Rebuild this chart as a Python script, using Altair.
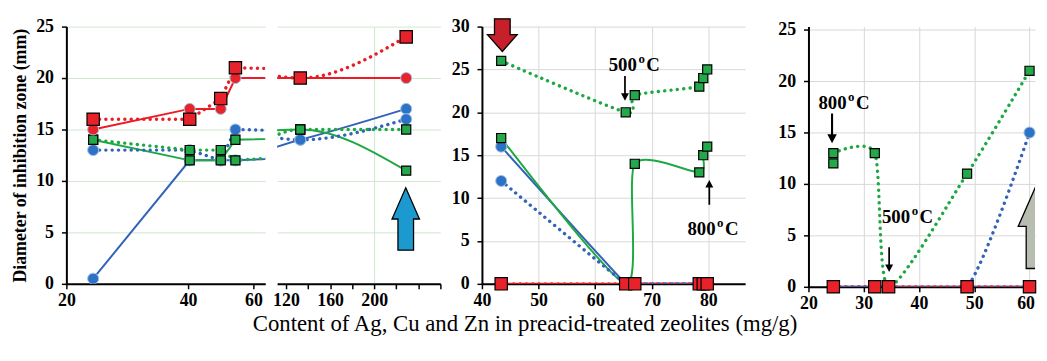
import altair as alt
import pandas as pd

SERIF = "Liberation Serif"

# ---------------- data ----------------
# Panels 1-2 share one broken x axis
LEFT_X = [24.4, 40.5, 50, 54.5, 133, 229]
LEFT_RED_SOLID = [15, 17, 17, 20, 20, 20]
LEFT_RED_DOTTED = [16, 16, 18, 21, 20, 24]
LEFT_BLUE_SOLID = [0.5, 12, 12, 12, 14, 17]
LEFT_BLUE_DOTTED = [13, 13, 12, 15, 14, 16]
LEFT_GREEN_SOLID = [14, 12, 12, 14, 15, 11]
LEFT_GREEN_DOTTED = [14, 13, 13, 12, 15, 15]

# Panel 3
MID_X = [43.4, 65.4, 67, 78.4, 79.1, 79.8]
MID_RED_SOLID = [0, 0, 0, 0, 0, 0]
MID_RED_DOTTED = [0, 0, 0, 0, 0, 0]
MID_BLUE_SOLID = [16, 0, 0, 0, 0, 0]
MID_BLUE_DOTTED = [12, 0, 0, 0, 0, 0]
MID_GREEN_SOLID = [17, 0, 14, 13, 15, 16]
MID_GREEN_DOTTED = [26, 20, 22, 23, 24, 25]

# Panel 4
RIGHT_X = [24.5, 32, 34.5, 48.7, 60]
RIGHT_RED_SOLID = [0, 0, 0, 0, 0]
RIGHT_RED_DOTTED = [0, 0, 0, 0, 0]
RIGHT_BLUE_SOLID = [0, 0, 0, 0, 0]
RIGHT_BLUE_DOTTED = [0, 0, 0, 0, 15]
RIGHT_GREEN_SOLID = [12, None, None, None, None]
RIGHT_GREEN_DOTTED = [13, 13, 0, 11, 21]

# annotation labels (data coordinates of each panel)
MID_TEMPS = [("500", 62.4, 24.8), ("800", 76.3, 5.75)]
MID_ARROWS_DOWN = [(65.27, 22.8)]
MID_ARROWS_UP = [(80.17, 10.66)]
RIGHT_TEMPS = [("800", 21.8, 17.3), ("500", 33.3, 6.25)]
RIGHT_ARROWS_DOWN = [(24.27, 15.4), (34.6, 2.64)]

TITLE = "Content of Ag, Cu and Zn in preacid-treated zeolites (mg/g)"
YTITLE = "Diameter of inhibition zone (mm)"

# ---------------- helpers ----------------
def long_table(xs, series):
    rows = []
    for name, ys in series.items():
        color, style = name.split("_")
        for i, (x, y) in enumerate(zip(xs, ys)):
            if y is None:
                continue
            rows.append(dict(x=x, y=y, series=name, color=color, style=style, i=i))
    return pd.DataFrame(rows)


left_df = long_table(LEFT_X, {
    "red_solid": LEFT_RED_SOLID, "red_dotted": LEFT_RED_DOTTED,
    "blue_solid": LEFT_BLUE_SOLID, "blue_dotted": LEFT_BLUE_DOTTED,
    "green_solid": LEFT_GREEN_SOLID, "green_dotted": LEFT_GREEN_DOTTED})
mid_df = long_table(MID_X, {
    "red_solid": MID_RED_SOLID, "red_dotted": MID_RED_DOTTED,
    "blue_solid": MID_BLUE_SOLID, "blue_dotted": MID_BLUE_DOTTED,
    "green_solid": MID_GREEN_SOLID, "green_dotted": MID_GREEN_DOTTED})
right_df = long_table(RIGHT_X, {
    "red_solid": RIGHT_RED_SOLID, "red_dotted": RIGHT_RED_DOTTED,
    "blue_solid": RIGHT_BLUE_SOLID, "blue_dotted": RIGHT_BLUE_DOTTED,
    "green_solid": RIGHT_GREEN_SOLID, "green_dotted": RIGHT_GREEN_DOTTED})

COLOR_SCALE = alt.Scale(domain=["red", "blue", "green"],
                        range=["#ec1c24", "#3263b8", "#1ea843"])

GREEN_GRID = "#cfe7cf"
GREY_GRID = "#d8d8d8"

THIN_DOWN = "M-0.07,-1 L0.07,-1 L0.07,0.4 L0.32,0.4 L0,1 L-0.32,0.4 L-0.07,0.4 Z"
THIN_UP = "M-0.07,1 L0.07,1 L0.07,-0.4 L0.32,-0.4 L0,-1 L-0.32,-0.4 L-0.07,-0.4 Z"
BIG_UP = "M0,-1 L0.44,0.0 L0.25,0.0 L0.25,1 L-0.25,1 L-0.25,0.0 L-0.44,0.0 Z"
BIG_DOWN = "M0,1 L0.91,-0.03 L0.48,-0.03 L0.48,-1 L-0.48,-1 L-0.48,-0.03 L-0.91,-0.03 Z"


def data_layers(df, X, Y, clip_pts, smooth):
    base = alt.Chart(df)
    enc = dict(x=X, y=Y)
    if smooth == "cardinal":
        line_kw = dict(interpolate="cardinal", tension=0.3, clip=True)
    else:
        line_kw = dict(interpolate=smooth, clip=True)
    solid = base.transform_filter("datum.style == 'solid'").mark_line(
        strokeWidth=2, **line_kw).encode(
        color=alt.Color("color:N", scale=COLOR_SCALE, legend=None),
        detail="series:N", order="i:Q", **enc)
    dotted = base.transform_filter("datum.style == 'dotted'").mark_line(
        strokeWidth=3.4, strokeDash=[0.1, 6.3], strokeCap="round", **line_kw).encode(
        color=alt.Color("color:N", scale=COLOR_SCALE, legend=None),
        detail="series:N", order="i:Q", **enc)
    blue_pts = base.transform_filter("datum.color == 'blue'").mark_circle(
        size=125, color="#2d72c4", opacity=1, stroke="#9fc2ea", strokeWidth=1,
        clip=clip_pts).encode(**enc)
    green_pts = base.transform_filter("datum.color == 'green'").mark_square(
        size=85, color="#24a94a", opacity=1, stroke="black", strokeWidth=1.2,
        clip=clip_pts).encode(**enc)
    red_circ = base.transform_filter("datum.series == 'red_solid'").mark_circle(
        size=125, color="#e8242a", opacity=1, stroke="#9fc2ea", strokeWidth=1,
        clip=clip_pts).encode(**enc)
    red_sq = base.transform_filter("datum.series == 'red_dotted'").mark_square(
        size=155, color="#e8222a", opacity=1, stroke="black", strokeWidth=1.2,
        clip=clip_pts).encode(**enc)
    return [solid, dotted, blue_pts, green_pts, red_circ, red_sq]


def temp_layers(temps, X, Y):
    df = pd.DataFrame([dict(t=t, x=x, y=y) for t, x, y in temps])
    base = alt.Chart(df).encode(x=X, y=Y)
    num = base.mark_text(align="left", baseline="alphabetic", font=SERIF,
                         fontSize=19, fontWeight="bold", color="black").encode(text="t:N")
    sup = base.mark_text(align="left", baseline="alphabetic", font=SERIF,
                         fontSize=13, fontWeight="bold", color="black",
                         dx=30, dy=-8).encode(text=alt.value("o"))
    cel = base.mark_text(align="left", baseline="alphabetic", font=SERIF,
                         fontSize=19, fontWeight="bold", color="black",
                         dx=38).encode(text=alt.value("C"))
    return [num, sup, cel]


def arrow_layer(points, X, Y, shape, size, fill, stroke=None, clip=False):
    df = pd.DataFrame([dict(x=x, y=y) for x, y in points])
    kw = dict(shape=shape, size=size, filled=True, fill=fill, opacity=1,
              fillOpacity=1, clip=clip)
    if stroke:
        kw.update(stroke=stroke, strokeWidth=1.3, strokeOpacity=1)
    else:
        kw.update(strokeWidth=0)
    return alt.Chart(df).mark_point(**kw).encode(x=X, y=Y)


# ---------------- panel 1 ----------------
X1 = alt.X("x:Q", scale=alt.Scale(domain=[20, 40, 60, 62], range=[0, 123, 189, 201]),
           axis=alt.Axis(values=[20, 40, 60], title=None, grid=False))
Y1 = alt.Y("y:Q", scale=alt.Scale(domain=[0, 25], nice=False, zero=False),
           axis=alt.Axis(values=[0, 5, 10, 15, 20, 25], title=YTITLE, grid=True,
                         gridColor=GREEN_GRID))
p1 = alt.layer(*data_layers(left_df, X1, Y1, True, "linear")).properties(width=201, height=260)

# ---------------- panel 2 ----------------
X2 = alt.X("x:Q", scale=alt.Scale(domain=[112, 260], nice=False, zero=False),
           axis=alt.Axis(values=[120, 140, 160, 180, 200, 220, 240, 260], title=None,
                         labelExpr="(datum.value == 120 || datum.value == 160 || datum.value == 200) ? datum.label : ''",
                         grid=True, gridColor=GREEN_GRID,
                         gridOpacity={"condition": {"test": "datum.value == 200", "value": 1}, "value": 0}))
Y2 = alt.Y("y:Q", scale=alt.Scale(domain=[0, 25], nice=False, zero=False),
           axis=alt.Axis(values=[0, 5, 10, 15, 20, 25], title=None, grid=True,
                         gridColor=GREEN_GRID, labels=False, ticks=False, domain=False))
p2 = alt.layer(*data_layers(left_df, X2, Y2, True, "monotone"),
               arrow_layer([(228.6, 6.3)], X2, Y2, BIG_UP, 3969, "#1c9ad0", "black")
               ).properties(width=165, height=260)

# ---------------- panel 3 ----------------
X3 = alt.X("x:Q", scale=alt.Scale(domain=[40, 86.5], nice=False, zero=False),
           axis=alt.Axis(values=[40, 50, 60, 70, 80], title=None, grid=True,
                         gridColor=GREY_GRID))
Y3 = alt.Y("y:Q", scale=alt.Scale(domain=[0, 30], nice=False, zero=False),
           axis=alt.Axis(values=[0, 5, 10, 15, 20, 25, 30], title=None, grid=True,
                         gridColor=GREY_GRID))
p3 = alt.layer(*data_layers(mid_df, X3, Y3, False, "cardinal"),
               *temp_layers(MID_TEMPS, X3, Y3),
               arrow_layer(MID_ARROWS_DOWN, X3, Y3, THIN_DOWN, 625, "black"),
               arrow_layer(MID_ARROWS_UP, X3, Y3, THIN_UP, 625, "black"),
               arrow_layer([(43.6, 29.0)], X3, Y3, BIG_DOWN, 1089, "#c8202a", "black")
               ).properties(width=266, height=260)

# ---------------- panel 4 ----------------
X4 = alt.X("x:Q", scale=alt.Scale(domain=[20, 61], nice=False, zero=False),
           axis=alt.Axis(values=[20, 30, 40, 50, 60], title=None, grid=True,
                         gridColor=GREY_GRID,
                         labelAlign={"condition": {"test": "datum.value == 60", "value": "right"}, "value": "center"},
                         labelOffset={"condition": {"test": "datum.value == 60", "value": 5}, "value": 0}))
Y4 = alt.Y("y:Q", scale=alt.Scale(domain=[0, 25.3], nice=False, zero=False),
           axis=alt.Axis(values=[0, 5, 10, 15, 20, 25], title=None, grid=True,
                         gridColor=GREY_GRID))
p4 = alt.layer(*data_layers(right_df, X4, Y4, False, "cardinal"),
               *temp_layers(RIGHT_TEMPS, X4, Y4),
               arrow_layer(RIGHT_ARROWS_DOWN[:1], X4, Y4, THIN_DOWN, 900, "black"),
               arrow_layer(RIGHT_ARROWS_DOWN[1:], X4, Y4, THIN_DOWN, 625, "black"),
               arrow_layer([(61.3, 5.87)], X4, Y4, BIG_UP, 7225, "#b7beb1", "black", clip=True)
               ).properties(width=229, height=263)


def spacer(w):
    return alt.Chart(pd.DataFrame({"v": [0]})).mark_point(opacity=0).encode(
        x=alt.X("v:Q", axis=None), y=alt.Y("v:Q", axis=None)
    ).properties(width=w, height=260)


chart = alt.hconcat(
    p1, spacer(12), p2, spacer(42), p3, spacer(64), p4,
    spacing=0, bounds="flush",
    title=alt.TitleParams(TITLE, orient="bottom", anchor="middle", font=SERIF,
                          fontSize=23, fontWeight="normal", color="black",
                          offset=1, frame="bounds"),
).properties(
    padding={"left": 3, "top": 6, "right": 0, "bottom": 4},
    background="white",
).configure_view(stroke=None).configure_axis(
    labelFont=SERIF, labelFontSize=18, labelFontWeight="bold", labelColor="black",
    labelPadding=6, labelFlush=False, labelOverlap=False,
    domainColor="black", domainWidth=2, tickColor="black", tickWidth=1.5, tickSize=5,
    gridWidth=1, titleFont=SERIF, titleFontSize=18, titleFontWeight="bold",
    titleColor="black", titlePadding=6,
).configure_axisX(labelPadding=3).configure_axisY(labelPadding=8)

chart.save("out.html", embed_options={"renderer": "svg", "actions": False})
